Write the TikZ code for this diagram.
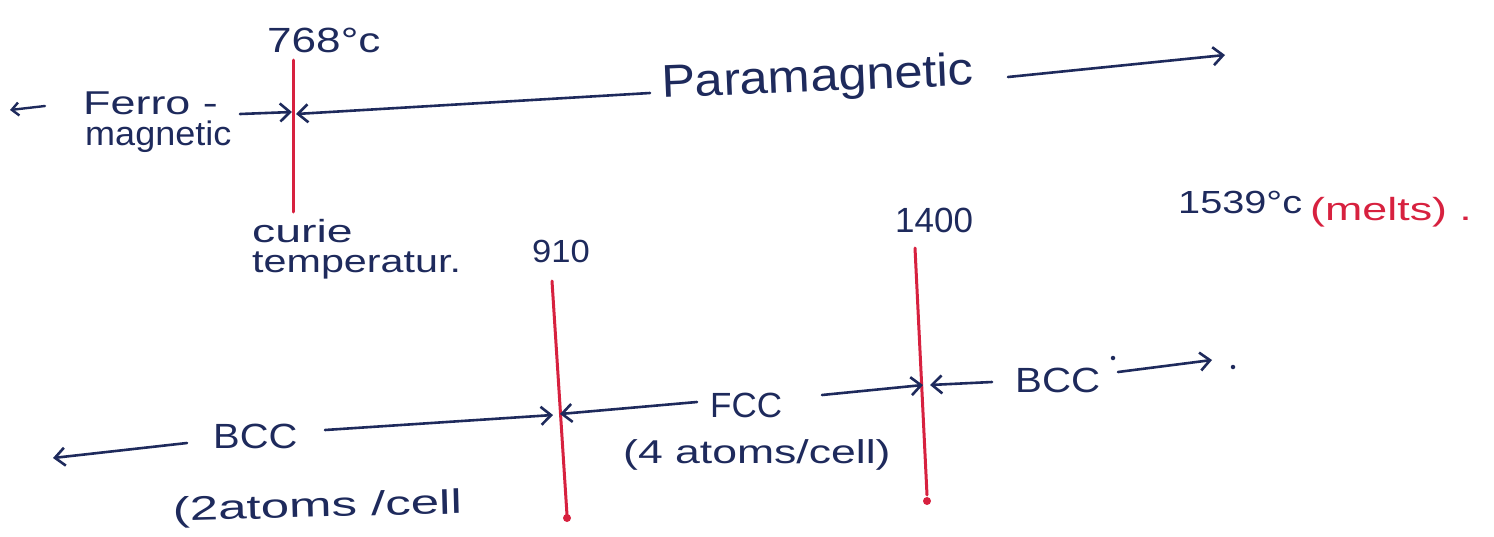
\documentclass[tikz,border=0pt]{standalone}
\usepackage{fontspec}
\usepackage{graphicx}
\setmainfont{Liberation Sans}
\usetikzlibrary{arrows.meta}
\definecolor{ink}{HTML}{1E2A5C}
\definecolor{redink}{HTML}{D7213F}
\newcommand{\hwtext}[3]{\fontsize{#1}{#1}\selectfont\scalebox{#2}[1]{#3}}
\begin{document}
\begin{tikzpicture}[x=1pt,y=-1pt,
  hw/.style={inner sep=0pt,text=ink,anchor=base west},
  redtext/.style={inner sep=0pt,text=redink,anchor=base west},
  redline/.style={draw=redink,line width=3pt,line cap=round},
  arr/.style={draw=ink,line width=2.6pt,line cap=round,
    -{Straight Barb[length=10pt,width=18pt,line width=2.6pt]}},
  smallarr/.style={draw=ink,line width=2.4pt,line cap=round,
    -{Straight Barb[length=7pt,width=13pt,line width=2.4pt]}},
  inkdot/.style={fill=ink,circle,inner sep=0pt,minimum size=4.5pt},
  redblob/.style={fill=redink,circle,inner sep=0pt,minimum size=8pt}]
\useasboundingbox (0,0) rectangle (1494,536);

% ---------- red temperature lines ----------
\coordinate (r1t) at (293,60);  \coordinate (r1b) at (293,212);
\coordinate (r2t) at (552,281); \coordinate (r2b) at (567,515);
\coordinate (r3t) at (915,248); \coordinate (r3b) at (927,495);
\draw[redline] (r1t) -- (r1b);
\draw[redline] (r2t) -- (r2b);
\draw[redline] (r3t) -- (r3b);
\node[redblob] (b2) at ([yshift=-3pt]r2b) {};
\node[redblob] (b3) at ([yshift=-6pt]r3b) {};

% ---------- upper row ----------
\node[hw] (t768) at (267,52) {\hwtext{35}{1.26}{768°c}};
\node[hw] (ferro) at (83,114) {\hwtext{33}{1.36}{Ferro -}};
\node[hw] (magn) at (85,145) {\hwtext{34}{1.06}{magnetic}};
\node[hw,rotate=2.4] (para) at (662,98) {\hwtext{46}{1.1}{Paramagnetic}};
\node[hw] (curie) at (252,242) {\hwtext{32}{1.45}{curie}};
\node[hw] (temp) at (252,272) {\hwtext{32}{1.29}{temperatur.}};

\coordinate (fl1) at (45,106);  \coordinate (fl2) at (10,110);
\coordinate (fr1) at (240,114); \coordinate (r1m) at (292,112);
\coordinate (pl1) at (650,93);  \coordinate (r1n) at (296,114);
\coordinate (pr1) at (1008,77); \coordinate (pr2) at (1225,55);
\draw[smallarr] (fl1) -- (fl2);
\draw[arr] (fr1) -- (r1m);
\draw[arr] (pl1) -- (r1n);
\draw[arr] (pr1) -- (pr2);

% ---------- temperatures ----------
\node[hw] (t910) at (532,262) {\hwtext{32}{1.08}{910}};
\node[hw] (t1400) at (895,232) {\hwtext{35}{1.0}{1400}};
\node[hw] (t1539) at (1178,213) {\hwtext{32}{1.24}{1539°c}};
\node[redtext] (melts) at (1310,220) {\hwtext{32}{1.4}{(melts) .}};

% ---------- lower row ----------
\node[hw] (bcc1) at (213,448) {\hwtext{35}{1.14}{BCC}};
\node[hw,rotate=1.5] (at2) at (173,521) {\hwtext{34}{1.5}{(2atoms /cell}};
\node[hw] (fcc) at (710,417) {\hwtext{35}{1.0}{FCC}};
\node[hw] (at4) at (623,463) {\hwtext{33}{1.35}{(4 atoms/cell)}};
\node[hw] (bcc2) at (1015,392) {\hwtext{35}{1.15}{BCC}};
\node[inkdot] (d1) at (1113,358) {};
\node[inkdot] (d2) at (1233,367) {};

\coordinate (bl1) at (187,443); \coordinate (bl2) at (53,458);
\coordinate (br1) at (325,430); \coordinate (r2m) at (553,415);
\coordinate (fl3) at (697,402); \coordinate (r2n) at (560,414);
\coordinate (fr3) at (822,395); \coordinate (r3m) at (923,385);
\coordinate (cl1) at (992,382); \coordinate (r3n) at (930,385);
\coordinate (cr1) at (1118,372); \coordinate (cr2) at (1212,360);
\draw[arr] (bl1) -- (bl2);
\draw[arr] (br1) -- (r2m);
\draw[arr] (fl3) -- (r2n);
\draw[arr] (fr3) -- (r3m);
\draw[arr] (cl1) -- (r3n);
\draw[arr] (cr1) -- (cr2);
\end{tikzpicture}
\end{document}
